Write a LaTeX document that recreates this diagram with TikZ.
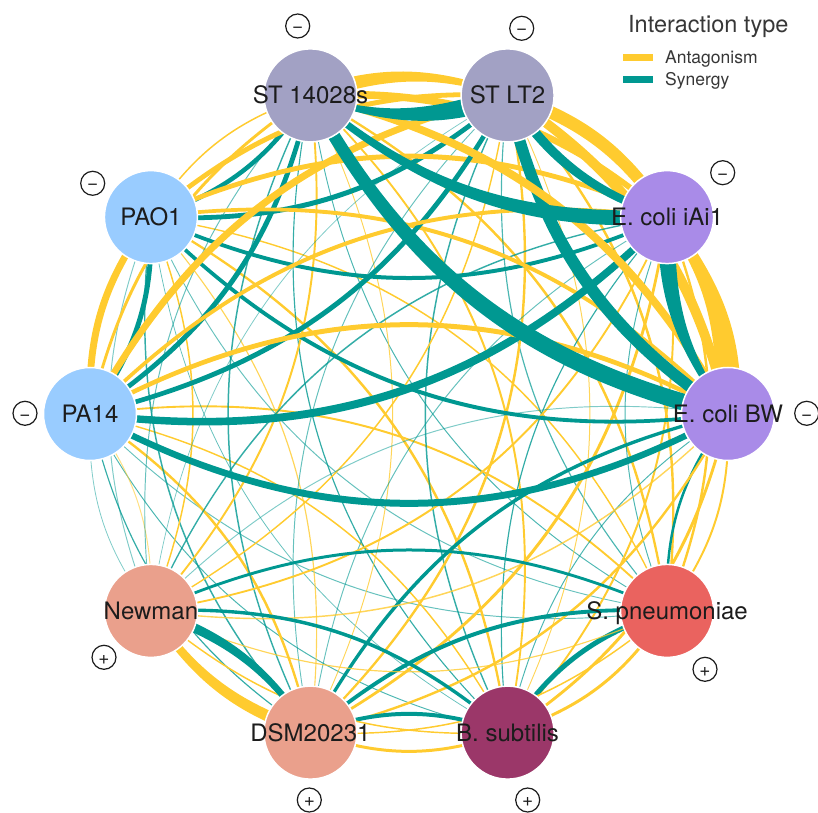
\documentclass[tikz,border=0pt]{standalone}
\usepackage{fontspec}
\setmainfont{TeX Gyre Heros}
\usetikzlibrary{calc}
\pgfdeclarelayer{links}
\pgfsetlayers{links,main}

\definecolor{antag}{RGB}{255,203,47}
\definecolor{syner}{RGB}{0,152,145}
\definecolor{stgrey}{RGB}{162,161,196}
\definecolor{ecoli}{RGB}{169,139,232}
\definecolor{pseudo}{RGB}{153,204,255}
\definecolor{staph}{RGB}{234,160,140}
\definecolor{strep}{RGB}{234,99,95}
\definecolor{bacil}{RGB}{155,55,105}
\definecolor{ink}{RGB}{28,28,28}
\definecolor{legink}{RGB}{55,55,55}

\begin{document}
\begin{tikzpicture}[x=1pt,y=1pt,
  strain/.style={circle, minimum size=93pt, inner sep=0pt, draw=white, line width=1.5pt},
  lbl/.style={font=\fontsize{24}{24}\selectfont, text=ink, inner sep=0pt, anchor=base},
  badge/.style={circle, draw=ink, line width=1.2pt, minimum size=24pt, inner sep=0pt,
    font=\fontsize{19}{19}\selectfont, text=ink, text height=13.4pt, text depth=0pt},
  legtext/.style={anchor=base west, inner sep=0pt, text=legink, font=\fontsize{17.5}{18}\selectfont},
  swatch/.style={minimum width=30pt, minimum height=7pt, inner sep=0pt}
]
\useasboundingbox (0,0) rectangle (818,812);

% strains on an ellipse, clockwise starting with PA14
\foreach \i/\fillc in {0/pseudo,1/pseudo,2/stgrey,3/stgrey,4/ecoli,5/ecoli,6/strep,7/bacil,8/staph,9/staph}
  \node[strain, fill=\fillc] (s\i) at ({409+319*cos(180-36*\i)},{398+335*sin(180-36*\i)}) {};

% strain names
\node[lbl] (l0) at ($(s0.center)+(0,-8.6)$) {PA14};
\node[lbl] (l1) at ($(s1.center)+(0,-8.6)$) {PAO1};
\node[lbl] (l2) at ($(s2.center)+(0,-8.6)$) {ST 14028s};
\node[lbl] (l3) at ($(s3.center)+(0,-8.6)$) {ST LT2};
\node[lbl] (l4) at ($(s4.center)+(0,-8.6)$) {E. coli iAi1};
\node[lbl] (l5) at ($(s5.center)+(0,-8.6)$) {E. coli BW};
\node[lbl] (l6) at ($(s6.center)+(0,-8.6)$) {S. pneumoniae};
\node[lbl] (l7) at ($(s7.center)+(0,-8.6)$) {B. subtilis};
\node[lbl] (l8) at ($(s8.center)+(0,-8.6)$) {DSM20231};
\node[lbl] (l9) at ($(s9.center)+(0,-8.6)$) {Newman};

% Gram stain marks
\node[badge] (g0) at (25,398.7) {−};
\node[badge] (g1) at (92.7,628.7) {−};
\node[badge] (g2) at (297.7,786) {−};
\node[badge] (g3) at (521.7,783.7) {−};
\node[badge] (g4) at (722.7,639.3) {−};
\node[badge] (g5) at (806.7,398.7) {−};
\node[badge] (g6) at (705,142.7) {+};
\node[badge] (g7) at (527.7,12) {+};
\node[badge] (g8) at (309.3,12) {+};
\node[badge] (g9) at (104,154.7) {+};

% legend
\node[anchor=base west, inner sep=0pt, text=legink, font=\fontsize{23.5}{24}\selectfont] (legtitle) at (628,779.7) {Interaction type};
\node[swatch, fill=antag] (swa) at (638,754.5) {};
\node[swatch, fill=syner] (sws) at (638,732) {};
\node[legtext] (lega) at (665,748) {Antagonism};
\node[legtext] (legs) at (665,726) {Synergy};

% interactions: from/to/type(1 antagonism, 0 synergy)/width at from/width at to/opacity
\begin{pgfonlayer}{links}
\foreach \ea/\eb/\et/\wa/\wb/\op in {
  0/6/1/2/2/1, 0/6/0/1/1/.6,
  0/7/1/1.5/1.5/1, 0/7/0/1/1/.7,
  0/8/1/2.5/2.5/1, 0/8/0/1.2/1.2/.8,
  0/9/1/1/1/.6, 0/9/0/0.8/0.8/.5,
  1/6/1/1.5/1.5/1, 1/6/0/1/1/.6,
  1/7/1/2.5/2.5/1, 1/7/0/0.8/0.8/.6,
  1/8/1/1.2/1.2/.8, 1/8/0/1.5/1.5/.8,
  1/9/1/1.5/1.5/1, 1/9/0/1/1/.5,
  2/6/1/2.5/2.5/1, 2/6/0/1/1/.7,
  2/7/1/2/2/1, 2/7/0/1.2/1.2/.8,
  2/8/1/1/1/.8, 2/8/0/1.5/1.5/.8,
  2/9/1/2/2/1, 2/9/0/1/1/.6,
  3/6/1/2.5/2.5/1, 3/6/0/1.2/1.2/.7,
  3/7/1/1/1/.8, 3/7/0/1.5/1.5/.8,
  3/8/1/2.5/2.5/1, 3/8/0/1/1/.6,
  3/9/1/1.5/1.5/1, 3/9/0/0.8/0.8/.5,
  4/6/1/2.5/2.5/1, 4/6/0/1/1/.7,
  4/7/1/2/2/1, 4/7/0/1.2/1.2/.8,
  4/8/1/3/3/1, 4/8/0/1/1/.6,
  4/9/1/2/2/1, 4/9/0/1.5/1.5/.8,
  5/6/1/2/2/1, 5/6/0/2.5/2.5/1,
  5/7/1/3/3/1, 5/7/0/1/1/.7,
  5/8/1/2.5/2.5/1, 5/8/0/3.5/3.5/1,
  5/9/1/1.5/1.5/.8, 5/9/0/1/1/.5,
  6/7/1/3/3/1, 6/7/0/5/5/1,
  6/8/1/1.5/1.5/1, 6/8/0/4/4/1,
  6/9/1/1.2/1.2/.8, 6/9/0/3/3/1,
  7/8/1/3/3/1, 7/8/0/4/4/1,
  7/9/1/1.5/1.5/1, 7/9/0/3.5/3.5/1,
  8/9/1/12/8/1, 8/9/0/6/10/1,
  0/1/1/7/7/1, 0/1/0/5/5/1,
  0/2/1/3/3/1, 0/2/0/5/5/1,
  1/2/1/1.5/1.5/1, 1/2/0/4.5/4.5/1,
  1/3/1/5/5/1, 1/3/0/5/5/1,
  1/4/1/5/5/1, 1/4/0/4/4/1,
  1/5/1/4/4/1, 1/5/0/4/4/1,
  0/3/1/7/7/1, 0/3/0/5/5/1,
  0/4/1/4/4/1, 0/4/0/8/8/1,
  0/5/1/5/5/1, 0/5/0/7/7/1,
  3/5/1/10/10/1, 3/5/0/12/12/1,
  2/5/1/8/8/1, 2/5/0/13/18/1,
  2/4/1/8/6/1, 2/4/0/7/16/1,
  3/4/1/13/12/1, 3/4/0/10/8/1,
  2/3/1/14/6/1, 2/3/0/5/20/1,
  4/5/1/10/26/1, 4/5/0/18/6/1} {
  \pgfmathtruncatemacro\kk{min(abs(\ea-\eb),10-abs(\ea-\eb))}
  \pgfmathsetmacro\bend{(19+2.4*(\kk-1))*(2*\et-1)}
  \pgfmathsetmacro\bendb{-\bend}
  \pgfmathsetmacro\ha{\wa/2}
  \pgfmathsetmacro\hb{\wb/2}
  \ifnum\et=1 \def\col{antag}\else\def\col{syner}\fi
  \fill[\col, opacity=\op]
    ($(s\ea.center)!\ha pt!90:(s\eb.center)$)
    .. controls ($(s\ea.center)!0.39!\bend:(s\eb.center) + (s\ea.center)!\ha pt!90:(s\eb.center) - (s\ea.center)$)
    and ($(s\eb.center)!0.39!\bendb:(s\ea.center) + (s\eb.center)!\hb pt!-90:(s\ea.center) - (s\eb.center)$)
    .. ($(s\eb.center)!\hb pt!-90:(s\ea.center)$)
    -- ($(s\eb.center)!\hb pt!90:(s\ea.center)$)
    .. controls ($(s\eb.center)!0.39!\bendb:(s\ea.center) + (s\eb.center)!\hb pt!90:(s\ea.center) - (s\eb.center)$)
    and ($(s\ea.center)!0.39!\bend:(s\eb.center) + (s\ea.center)!\ha pt!-90:(s\eb.center) - (s\ea.center)$)
    .. ($(s\ea.center)!\ha pt!-90:(s\eb.center)$) -- cycle;
}
\end{pgfonlayer}
\end{tikzpicture}
\end{document}
